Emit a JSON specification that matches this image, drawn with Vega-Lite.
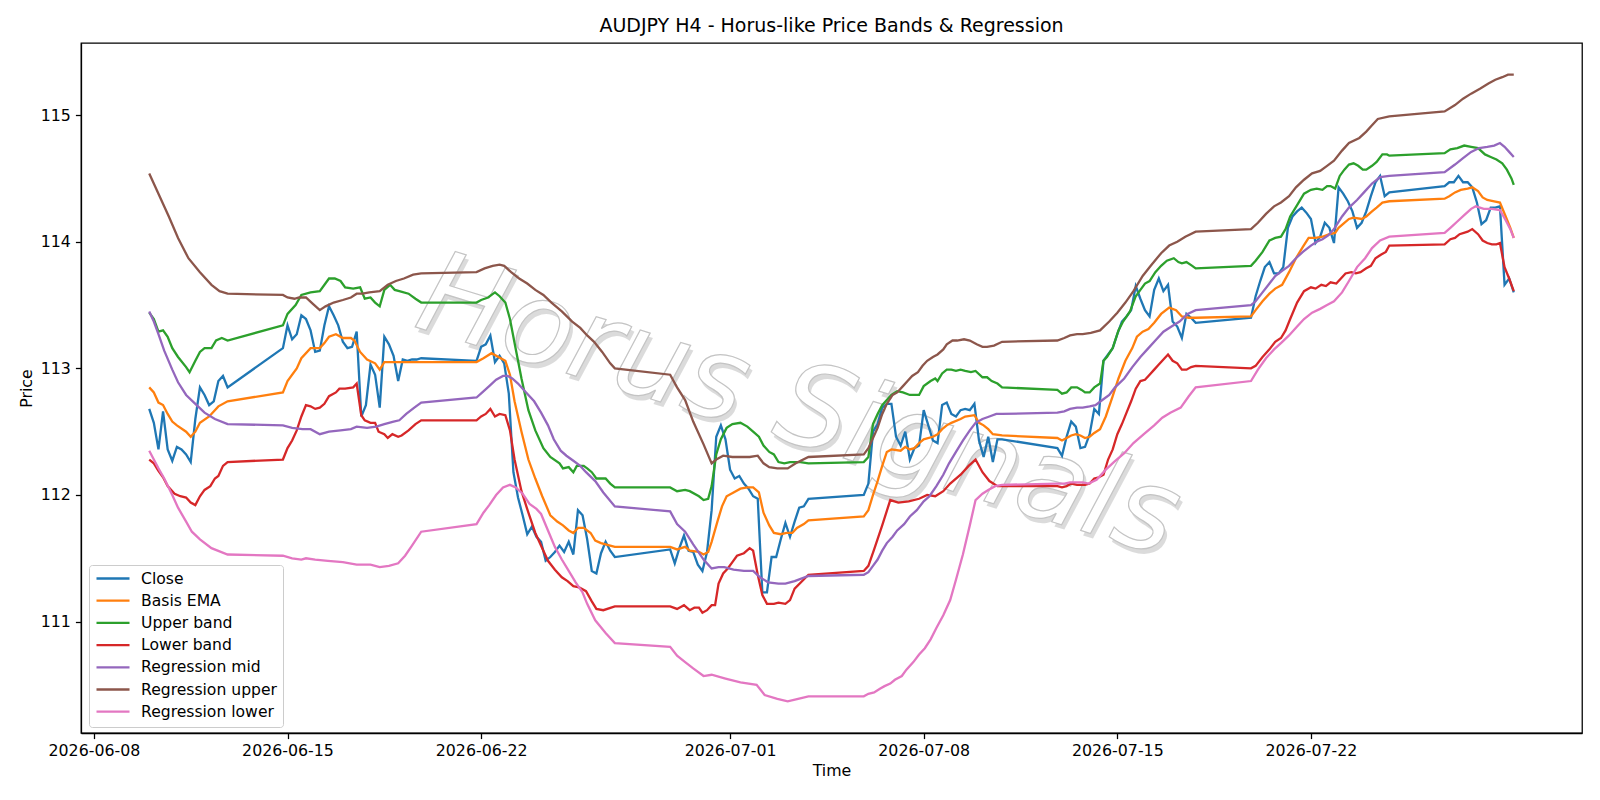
{
  "$schema": "https://vega.github.io/schema/vega-lite/v6.json",
  "width": 1501,
  "height": 690,
  "autosize": {"type": "none"},
  "padding": {"left": 81, "top": 43, "right": 18, "bottom": 67},
  "background": "white",
  "title": {"text": "AUDJPY H4 - Horus-like Price Bands & Regression", "font": "DejaVu Sans", "fontSize": 19, "fontWeight": "normal", "color": "black", "anchor": "middle", "offset": 7},
  "config": {
    "font": "DejaVu Sans",
    "view": {"stroke": "black", "strokeWidth": 1.27},
    "axis": {"labelFont": "DejaVu Sans", "labelFontSize": 15.8, "labelColor": "black", "titleFont": "DejaVu Sans", "titleFontSize": 15.8, "titleFontWeight": "normal", "titleColor": "black", "tickColor": "black", "tickSize": 5.6, "tickWidth": 1.27, "domainColor": "black", "domainWidth": 1.27, "labelPadding": 5, "gridColor": "#b0b0b0", "gridOpacity": 0.35, "gridWidth": 1.2}
  },
  "datasets": {
    "close": [
      {"t":"2026-06-10 00","v":112.68},{"t":"2026-06-10 04","v":112.57},{"t":"2026-06-10 08","v":112.36},{"t":"2026-06-10 12","v":112.66},{"t":"2026-06-10 16","v":112.36},{"t":"2026-06-10 20","v":112.27},
      {"t":"2026-06-11 00","v":112.38},{"t":"2026-06-11 04","v":112.36},{"t":"2026-06-11 08","v":112.32},{"t":"2026-06-11 12","v":112.26},{"t":"2026-06-11 16","v":112.60},{"t":"2026-06-11 20","v":112.85},
      {"t":"2026-06-12 00","v":112.79},{"t":"2026-06-12 04","v":112.71},{"t":"2026-06-12 08","v":112.74},{"t":"2026-06-12 12","v":112.90},{"t":"2026-06-12 16","v":112.94},{"t":"2026-06-12 20","v":112.85},
      {"t":"2026-06-14 20","v":113.16},
      {"t":"2026-06-15 00","v":113.34},{"t":"2026-06-15 04","v":113.23},{"t":"2026-06-15 08","v":113.27},{"t":"2026-06-15 12","v":113.42},{"t":"2026-06-15 16","v":113.39},{"t":"2026-06-15 20","v":113.30},
      {"t":"2026-06-16 00","v":113.13},{"t":"2026-06-16 04","v":113.14},{"t":"2026-06-16 08","v":113.34},{"t":"2026-06-16 12","v":113.49},{"t":"2026-06-16 16","v":113.42},{"t":"2026-06-16 20","v":113.34},
      {"t":"2026-06-17 00","v":113.21},{"t":"2026-06-17 04","v":113.16},{"t":"2026-06-17 08","v":113.17},{"t":"2026-06-17 12","v":113.29},{"t":"2026-06-17 16","v":112.62},{"t":"2026-06-17 20","v":112.71},
      {"t":"2026-06-18 00","v":113.03},{"t":"2026-06-18 04","v":112.95},{"t":"2026-06-18 08","v":112.69},{"t":"2026-06-18 12","v":113.25},{"t":"2026-06-18 16","v":113.19},{"t":"2026-06-18 20","v":113.10},
      {"t":"2026-06-19 00","v":112.90},{"t":"2026-06-19 04","v":113.07},{"t":"2026-06-19 08","v":113.06},{"t":"2026-06-19 12","v":113.07},{"t":"2026-06-19 16","v":113.07},{"t":"2026-06-19 20","v":113.08},
      {"t":"2026-06-21 20","v":113.06},
      {"t":"2026-06-22 00","v":113.17},{"t":"2026-06-22 04","v":113.19},{"t":"2026-06-22 08","v":113.26},{"t":"2026-06-22 12","v":113.05},{"t":"2026-06-22 16","v":113.10},{"t":"2026-06-22 20","v":113.04},
      {"t":"2026-06-23 00","v":112.80},{"t":"2026-06-23 04","v":112.18},{"t":"2026-06-23 08","v":111.98},{"t":"2026-06-23 12","v":111.84},{"t":"2026-06-23 16","v":111.69},{"t":"2026-06-23 20","v":111.75},
      {"t":"2026-06-24 00","v":111.67},{"t":"2026-06-24 04","v":111.63},{"t":"2026-06-24 08","v":111.48},{"t":"2026-06-24 12","v":111.51},{"t":"2026-06-24 16","v":111.55},{"t":"2026-06-24 20","v":111.60},
      {"t":"2026-06-25 00","v":111.55},{"t":"2026-06-25 04","v":111.63},{"t":"2026-06-25 08","v":111.53},{"t":"2026-06-25 12","v":111.88},{"t":"2026-06-25 16","v":111.84},{"t":"2026-06-25 20","v":111.65},
      {"t":"2026-06-26 00","v":111.40},{"t":"2026-06-26 04","v":111.38},{"t":"2026-06-26 08","v":111.54},{"t":"2026-06-26 12","v":111.63},{"t":"2026-06-26 16","v":111.56},{"t":"2026-06-26 20","v":111.51},
      {"t":"2026-06-28 20","v":111.57},
      {"t":"2026-06-29 00","v":111.46},{"t":"2026-06-29 04","v":111.58},{"t":"2026-06-29 08","v":111.68},{"t":"2026-06-29 12","v":111.56},{"t":"2026-06-29 16","v":111.55},{"t":"2026-06-29 20","v":111.45},
      {"t":"2026-06-30 00","v":111.40},{"t":"2026-06-30 04","v":111.55},{"t":"2026-06-30 08","v":111.88},{"t":"2026-06-30 12","v":112.46},{"t":"2026-06-30 16","v":112.55},{"t":"2026-06-30 20","v":112.44},
      {"t":"2026-07-01 00","v":112.20},{"t":"2026-07-01 04","v":112.13},{"t":"2026-07-01 08","v":112.15},{"t":"2026-07-01 12","v":112.09},{"t":"2026-07-01 16","v":112.05},{"t":"2026-07-01 20","v":111.99},
      {"t":"2026-07-02 00","v":111.97},{"t":"2026-07-02 04","v":111.23},{"t":"2026-07-02 08","v":111.23},{"t":"2026-07-02 12","v":111.51},{"t":"2026-07-02 16","v":111.51},{"t":"2026-07-02 20","v":111.65},
      {"t":"2026-07-03 00","v":111.78},{"t":"2026-07-03 04","v":111.67},{"t":"2026-07-03 08","v":111.79},{"t":"2026-07-03 12","v":111.90},{"t":"2026-07-03 16","v":111.91},{"t":"2026-07-03 20","v":111.97},
      {"t":"2026-07-05 20","v":112.00},
      {"t":"2026-07-06 00","v":112.09},{"t":"2026-07-06 04","v":112.50},{"t":"2026-07-06 08","v":112.56},{"t":"2026-07-06 12","v":112.69},{"t":"2026-07-06 16","v":112.72},{"t":"2026-07-06 20","v":112.72},
      {"t":"2026-07-07 00","v":112.46},{"t":"2026-07-07 04","v":112.39},{"t":"2026-07-07 08","v":112.50},{"t":"2026-07-07 12","v":112.28},{"t":"2026-07-07 16","v":112.37},{"t":"2026-07-07 20","v":112.39},
      {"t":"2026-07-08 00","v":112.67},{"t":"2026-07-08 04","v":112.55},{"t":"2026-07-08 08","v":112.43},{"t":"2026-07-08 12","v":112.41},{"t":"2026-07-08 16","v":112.71},{"t":"2026-07-08 20","v":112.73},
      {"t":"2026-07-09 00","v":112.64},{"t":"2026-07-09 04","v":112.62},{"t":"2026-07-09 08","v":112.67},{"t":"2026-07-09 12","v":112.68},{"t":"2026-07-09 16","v":112.67},{"t":"2026-07-09 20","v":112.72},
      {"t":"2026-07-10 00","v":112.43},{"t":"2026-07-10 04","v":112.30},{"t":"2026-07-10 08","v":112.46},{"t":"2026-07-10 12","v":112.26},{"t":"2026-07-10 16","v":112.44},{"t":"2026-07-10 20","v":112.44},
      {"t":"2026-07-12 20","v":112.37},
      {"t":"2026-07-13 00","v":112.31},{"t":"2026-07-13 04","v":112.46},{"t":"2026-07-13 08","v":112.58},{"t":"2026-07-13 12","v":112.54},{"t":"2026-07-13 16","v":112.37},{"t":"2026-07-13 20","v":112.38},
      {"t":"2026-07-14 00","v":112.48},{"t":"2026-07-14 04","v":112.68},{"t":"2026-07-14 08","v":112.64},{"t":"2026-07-14 12","v":113.06},{"t":"2026-07-14 16","v":113.11},{"t":"2026-07-14 20","v":113.16},
      {"t":"2026-07-15 00","v":113.27},{"t":"2026-07-15 04","v":113.37},{"t":"2026-07-15 08","v":113.41},{"t":"2026-07-15 12","v":113.46},{"t":"2026-07-15 16","v":113.65},{"t":"2026-07-15 20","v":113.55},
      {"t":"2026-07-16 00","v":113.46},{"t":"2026-07-16 04","v":113.41},{"t":"2026-07-16 08","v":113.62},{"t":"2026-07-16 12","v":113.71},{"t":"2026-07-16 16","v":113.61},{"t":"2026-07-16 20","v":113.66},
      {"t":"2026-07-17 00","v":113.37},{"t":"2026-07-17 04","v":113.33},{"t":"2026-07-17 08","v":113.24},{"t":"2026-07-17 12","v":113.43},{"t":"2026-07-17 16","v":113.40},{"t":"2026-07-17 20","v":113.36},
      {"t":"2026-07-19 20","v":113.40},
      {"t":"2026-07-20 00","v":113.57},{"t":"2026-07-20 04","v":113.69},{"t":"2026-07-20 08","v":113.80},{"t":"2026-07-20 12","v":113.84},{"t":"2026-07-20 16","v":113.75},{"t":"2026-07-20 20","v":113.75},
      {"t":"2026-07-21 00","v":113.80},{"t":"2026-07-21 04","v":114.11},{"t":"2026-07-21 08","v":114.20},{"t":"2026-07-21 12","v":114.24},{"t":"2026-07-21 16","v":114.27},{"t":"2026-07-21 20","v":114.23},
      {"t":"2026-07-22 00","v":114.18},{"t":"2026-07-22 04","v":113.99},{"t":"2026-07-22 08","v":114.04},{"t":"2026-07-22 12","v":114.15},{"t":"2026-07-22 16","v":114.11},{"t":"2026-07-22 20","v":113.99},
      {"t":"2026-07-23 00","v":114.43},{"t":"2026-07-23 04","v":114.38},{"t":"2026-07-23 08","v":114.32},{"t":"2026-07-23 12","v":114.24},{"t":"2026-07-23 16","v":114.11},{"t":"2026-07-23 20","v":114.15},
      {"t":"2026-07-24 00","v":114.24},{"t":"2026-07-24 04","v":114.36},{"t":"2026-07-24 08","v":114.47},{"t":"2026-07-24 12","v":114.52},{"t":"2026-07-24 16","v":114.36},{"t":"2026-07-24 20","v":114.39},
      {"t":"2026-07-26 20","v":114.44},
      {"t":"2026-07-27 00","v":114.47},{"t":"2026-07-27 04","v":114.47},{"t":"2026-07-27 08","v":114.52},{"t":"2026-07-27 12","v":114.47},{"t":"2026-07-27 16","v":114.47},{"t":"2026-07-27 20","v":114.43},
      {"t":"2026-07-28 00","v":114.31},{"t":"2026-07-28 04","v":114.14},{"t":"2026-07-28 08","v":114.17},{"t":"2026-07-28 12","v":114.27},{"t":"2026-07-28 16","v":114.27},{"t":"2026-07-28 20","v":114.28},
      {"t":"2026-07-29 00","v":113.66},{"t":"2026-07-29 04","v":113.71},{"t":"2026-07-29 08","v":113.60}
    ],
    "basis": [
      {"t":"2026-06-10 00","v":112.85},{"t":"2026-06-10 04","v":112.81},{"t":"2026-06-10 08","v":112.73},{"t":"2026-06-10 12","v":112.71},{"t":"2026-06-10 16","v":112.64},{"t":"2026-06-10 20","v":112.58},
      {"t":"2026-06-11 00","v":112.55},{"t":"2026-06-11 08","v":112.50},{"t":"2026-06-11 12","v":112.46},{"t":"2026-06-11 16","v":112.50},{"t":"2026-06-11 20","v":112.57},
      {"t":"2026-06-12 04","v":112.62},{"t":"2026-06-12 12","v":112.70},{"t":"2026-06-12 20","v":112.74},{"t":"2026-06-14 20","v":112.81},
      {"t":"2026-06-15 00","v":112.90},{"t":"2026-06-15 08","v":113.00},{"t":"2026-06-15 12","v":113.08},{"t":"2026-06-15 20","v":113.16},
      {"t":"2026-06-16 04","v":113.16},{"t":"2026-06-16 08","v":113.20},{"t":"2026-06-16 12","v":113.25},{"t":"2026-06-16 18","v":113.27},
      {"t":"2026-06-17 00","v":113.24},{"t":"2026-06-17 07","v":113.24},{"t":"2026-06-17 10","v":113.22},{"t":"2026-06-17 15","v":113.13},{"t":"2026-06-17 21","v":113.07},
      {"t":"2026-06-18 04","v":113.04},{"t":"2026-06-18 08","v":112.99},{"t":"2026-06-18 12","v":113.05},{"t":"2026-06-18 20","v":113.05},{"t":"2026-06-19 20","v":113.05},
      {"t":"2026-06-21 20","v":113.05},{"t":"2026-06-22 02","v":113.08},{"t":"2026-06-22 09","v":113.12},{"t":"2026-06-22 15","v":113.09},{"t":"2026-06-22 21","v":113.06},
      {"t":"2026-06-23 01","v":112.95},{"t":"2026-06-23 05","v":112.74},{"t":"2026-06-23 11","v":112.50},{"t":"2026-06-23 17","v":112.28},{"t":"2026-06-23 23","v":112.13},
      {"t":"2026-06-24 05","v":111.99},{"t":"2026-06-24 12","v":111.84},{"t":"2026-06-24 18","v":111.79},{"t":"2026-06-24 23","v":111.76},
      {"t":"2026-06-25 04","v":111.72},{"t":"2026-06-25 08","v":111.70},{"t":"2026-06-25 12","v":111.74},{"t":"2026-06-25 17","v":111.74},{"t":"2026-06-25 23","v":111.70},
      {"t":"2026-06-26 03","v":111.64},{"t":"2026-06-26 08","v":111.62},{"t":"2026-06-26 16","v":111.60},{"t":"2026-06-26 20","v":111.59},
      {"t":"2026-06-28 20","v":111.59},{"t":"2026-06-29 02","v":111.57},{"t":"2026-06-29 09","v":111.59},{"t":"2026-06-29 13","v":111.56},{"t":"2026-06-29 21","v":111.55},
      {"t":"2026-06-30 01","v":111.53},{"t":"2026-06-30 05","v":111.55},{"t":"2026-06-30 08","v":111.63},{"t":"2026-06-30 13","v":111.79},{"t":"2026-06-30 17","v":111.91},{"t":"2026-06-30 21","v":111.99},
      {"t":"2026-07-01 03","v":112.02},{"t":"2026-07-01 09","v":112.05},{"t":"2026-07-01 15","v":112.06},{"t":"2026-07-01 20","v":112.06},
      {"t":"2026-07-02 01","v":112.02},{"t":"2026-07-02 05","v":111.86},{"t":"2026-07-02 10","v":111.76},{"t":"2026-07-02 14","v":111.70},{"t":"2026-07-02 20","v":111.69},
      {"t":"2026-07-03 01","v":111.70},{"t":"2026-07-03 06","v":111.70},{"t":"2026-07-03 10","v":111.74},{"t":"2026-07-03 16","v":111.77},{"t":"2026-07-03 20","v":111.80},
      {"t":"2026-07-05 20","v":111.83},{"t":"2026-07-06 00","v":111.88},{"t":"2026-07-06 04","v":112.00},{"t":"2026-07-06 08","v":112.11},{"t":"2026-07-06 12","v":112.23},{"t":"2026-07-06 16","v":112.34},{"t":"2026-07-06 20","v":112.36},
      {"t":"2026-07-07 04","v":112.35},{"t":"2026-07-07 08","v":112.38},{"t":"2026-07-07 12","v":112.36},{"t":"2026-07-07 16","v":112.37},{"t":"2026-07-07 20","v":112.41},
      {"t":"2026-07-08 00","v":112.44},{"t":"2026-07-08 08","v":112.46},{"t":"2026-07-08 12","v":112.48},{"t":"2026-07-08 16","v":112.52},{"t":"2026-07-08 20","v":112.55},
      {"t":"2026-07-09 00","v":112.57},{"t":"2026-07-09 08","v":112.60},{"t":"2026-07-09 12","v":112.62},{"t":"2026-07-09 20","v":112.63},
      {"t":"2026-07-10 00","v":112.57},{"t":"2026-07-10 04","v":112.55},{"t":"2026-07-10 08","v":112.52},{"t":"2026-07-10 12","v":112.48},{"t":"2026-07-10 20","v":112.47},
      {"t":"2026-07-12 20","v":112.45},{"t":"2026-07-13 00","v":112.43},{"t":"2026-07-13 04","v":112.45},{"t":"2026-07-13 08","v":112.47},{"t":"2026-07-13 12","v":112.48},{"t":"2026-07-13 16","v":112.47},{"t":"2026-07-13 20","v":112.45},
      {"t":"2026-07-14 00","v":112.46},{"t":"2026-07-14 04","v":112.49},{"t":"2026-07-14 09","v":112.52},{"t":"2026-07-14 14","v":112.62},{"t":"2026-07-14 20","v":112.78},
      {"t":"2026-07-15 01","v":112.92},{"t":"2026-07-15 07","v":113.06},{"t":"2026-07-15 13","v":113.16},{"t":"2026-07-15 17","v":113.25},{"t":"2026-07-15 22","v":113.29},
      {"t":"2026-07-16 03","v":113.31},{"t":"2026-07-16 08","v":113.36},{"t":"2026-07-16 14","v":113.43},{"t":"2026-07-16 21","v":113.48},
      {"t":"2026-07-17 03","v":113.46},{"t":"2026-07-17 08","v":113.41},{"t":"2026-07-17 14","v":113.40},{"t":"2026-07-17 20","v":113.40},
      {"t":"2026-07-19 20","v":113.41},{"t":"2026-07-20 00","v":113.46},{"t":"2026-07-20 06","v":113.53},{"t":"2026-07-20 12","v":113.59},{"t":"2026-07-20 17","v":113.63},{"t":"2026-07-20 23","v":113.66},
      {"t":"2026-07-21 05","v":113.76},{"t":"2026-07-21 11","v":113.87},{"t":"2026-07-21 17","v":113.96},{"t":"2026-07-21 22","v":114.03},
      {"t":"2026-07-22 04","v":114.03},{"t":"2026-07-22 10","v":114.04},{"t":"2026-07-22 16","v":114.06},{"t":"2026-07-22 21","v":114.07},
      {"t":"2026-07-23 00","v":114.11},{"t":"2026-07-23 05","v":114.15},{"t":"2026-07-23 09","v":114.18},{"t":"2026-07-23 13","v":114.19},{"t":"2026-07-23 20","v":114.18},
      {"t":"2026-07-24 00","v":114.20},{"t":"2026-07-24 05","v":114.24},{"t":"2026-07-24 09","v":114.27},{"t":"2026-07-24 14","v":114.31},{"t":"2026-07-24 20","v":114.32},
      {"t":"2026-07-26 20","v":114.34},{"t":"2026-07-27 00","v":114.36},{"t":"2026-07-27 05","v":114.39},{"t":"2026-07-27 10","v":114.41},{"t":"2026-07-27 16","v":114.42},{"t":"2026-07-27 20","v":114.43},
      {"t":"2026-07-28 01","v":114.40},{"t":"2026-07-28 05","v":114.35},{"t":"2026-07-28 09","v":114.33},{"t":"2026-07-28 15","v":114.32},{"t":"2026-07-28 20","v":114.31},
      {"t":"2026-07-29 01","v":114.20},{"t":"2026-07-29 05","v":114.11},{"t":"2026-07-29 08","v":114.03}
    ],
    "upper": [
      {"t":"2026-06-10 00","v":113.44},{"t":"2026-06-10 04","v":113.39},{"t":"2026-06-10 08","v":113.29},{"t":"2026-06-10 12","v":113.30},{"t":"2026-06-10 16","v":113.25},{"t":"2026-06-10 20","v":113.16},
      {"t":"2026-06-11 01","v":113.09},{"t":"2026-06-11 08","v":113.01},{"t":"2026-06-11 11","v":112.97},{"t":"2026-06-11 16","v":113.06},{"t":"2026-06-11 20","v":113.13},
      {"t":"2026-06-12 00","v":113.16},{"t":"2026-06-12 06","v":113.16},{"t":"2026-06-12 10","v":113.22},{"t":"2026-06-12 15","v":113.24},{"t":"2026-06-12 20","v":113.22},
      {"t":"2026-06-14 20","v":113.34},{"t":"2026-06-15 00","v":113.43},{"t":"2026-06-15 07","v":113.50},{"t":"2026-06-15 12","v":113.58},{"t":"2026-06-15 20","v":113.60},
      {"t":"2026-06-16 04","v":113.61},{"t":"2026-06-16 12","v":113.71},{"t":"2026-06-16 17","v":113.71},{"t":"2026-06-16 22","v":113.69},
      {"t":"2026-06-17 02","v":113.64},{"t":"2026-06-17 09","v":113.63},{"t":"2026-06-17 15","v":113.64},{"t":"2026-06-17 19","v":113.55},
      {"t":"2026-06-18 00","v":113.56},{"t":"2026-06-18 04","v":113.52},{"t":"2026-06-18 08","v":113.49},{"t":"2026-06-18 12","v":113.62},{"t":"2026-06-18 17","v":113.66},{"t":"2026-06-18 21","v":113.62},
      {"t":"2026-06-19 01","v":113.61},{"t":"2026-06-19 09","v":113.59},{"t":"2026-06-19 15","v":113.55},{"t":"2026-06-19 20","v":113.52},
      {"t":"2026-06-21 20","v":113.52},{"t":"2026-06-22 00","v":113.54},{"t":"2026-06-22 06","v":113.56},{"t":"2026-06-22 12","v":113.60},{"t":"2026-06-22 16","v":113.57},{"t":"2026-06-22 21","v":113.52},
      {"t":"2026-06-23 01","v":113.39},{"t":"2026-06-23 05","v":113.20},{"t":"2026-06-23 11","v":112.92},{"t":"2026-06-23 17","v":112.67},{"t":"2026-06-23 23","v":112.51},
      {"t":"2026-06-24 06","v":112.37},{"t":"2026-06-24 12","v":112.30},{"t":"2026-06-24 20","v":112.25},{"t":"2026-06-24 23","v":112.21},
      {"t":"2026-06-25 04","v":112.22},{"t":"2026-06-25 08","v":112.18},{"t":"2026-06-25 11","v":112.23},{"t":"2026-06-25 17","v":112.23},{"t":"2026-06-25 20","v":112.21},
      {"t":"2026-06-26 00","v":112.18},{"t":"2026-06-26 04","v":112.13},{"t":"2026-06-26 12","v":112.13},{"t":"2026-06-26 16","v":112.09},{"t":"2026-06-26 20","v":112.06},
      {"t":"2026-06-28 20","v":112.06},{"t":"2026-06-29 02","v":112.03},{"t":"2026-06-29 09","v":112.04},{"t":"2026-06-29 13","v":112.03},{"t":"2026-06-29 21","v":111.99},
      {"t":"2026-06-30 01","v":111.96},{"t":"2026-06-30 05","v":111.97},{"t":"2026-06-30 08","v":112.07},{"t":"2026-06-30 12","v":112.32},{"t":"2026-06-30 16","v":112.44},{"t":"2026-06-30 21","v":112.53},
      {"t":"2026-07-01 02","v":112.56},{"t":"2026-07-01 09","v":112.57},{"t":"2026-07-01 15","v":112.54},{"t":"2026-07-01 20","v":112.50},
      {"t":"2026-07-02 01","v":112.46},{"t":"2026-07-02 05","v":112.39},{"t":"2026-07-02 10","v":112.34},{"t":"2026-07-02 14","v":112.32},{"t":"2026-07-02 18","v":112.26},{"t":"2026-07-02 23","v":112.25},
      {"t":"2026-07-03 04","v":112.26},{"t":"2026-07-03 13","v":112.26},{"t":"2026-07-03 20","v":112.25},
      {"t":"2026-07-05 20","v":112.26},{"t":"2026-07-06 00","v":112.30},{"t":"2026-07-06 04","v":112.56},{"t":"2026-07-06 08","v":112.64},{"t":"2026-07-06 12","v":112.71},{"t":"2026-07-06 16","v":112.75},{"t":"2026-07-06 20","v":112.79},
      {"t":"2026-07-07 01","v":112.82},{"t":"2026-07-07 06","v":112.81},{"t":"2026-07-07 12","v":112.79},{"t":"2026-07-07 20","v":112.79},
      {"t":"2026-07-08 00","v":112.86},{"t":"2026-07-08 06","v":112.90},{"t":"2026-07-08 10","v":112.92},{"t":"2026-07-08 12","v":112.90},{"t":"2026-07-08 16","v":112.96},{"t":"2026-07-08 20","v":112.99},
      {"t":"2026-07-09 00","v":112.99},{"t":"2026-07-09 04","v":112.98},{"t":"2026-07-09 08","v":112.99},{"t":"2026-07-09 12","v":112.98},{"t":"2026-07-09 17","v":112.97},{"t":"2026-07-09 21","v":112.98},
      {"t":"2026-07-10 03","v":112.93},{"t":"2026-07-10 07","v":112.93},{"t":"2026-07-10 11","v":112.90},{"t":"2026-07-10 16","v":112.88},{"t":"2026-07-10 20","v":112.85},
      {"t":"2026-07-12 20","v":112.83},{"t":"2026-07-13 00","v":112.80},{"t":"2026-07-13 04","v":112.81},{"t":"2026-07-13 08","v":112.85},{"t":"2026-07-13 13","v":112.85},{"t":"2026-07-13 17","v":112.83},{"t":"2026-07-13 20","v":112.81},
      {"t":"2026-07-14 00","v":112.81},{"t":"2026-07-14 04","v":112.85},{"t":"2026-07-14 09","v":112.88},{"t":"2026-07-14 12","v":113.06},{"t":"2026-07-14 15","v":113.09},{"t":"2026-07-14 20","v":113.16},
      {"t":"2026-07-15 01","v":113.30},{"t":"2026-07-15 05","v":113.37},{"t":"2026-07-15 11","v":113.45},{"t":"2026-07-15 16","v":113.57},{"t":"2026-07-15 20","v":113.62},
      {"t":"2026-07-16 00","v":113.67},{"t":"2026-07-16 04","v":113.69},{"t":"2026-07-16 09","v":113.76},{"t":"2026-07-16 14","v":113.81},{"t":"2026-07-16 19","v":113.85},
      {"t":"2026-07-17 01","v":113.87},{"t":"2026-07-17 05","v":113.84},{"t":"2026-07-17 08","v":113.83},{"t":"2026-07-17 12","v":113.84},{"t":"2026-07-17 17","v":113.81},{"t":"2026-07-17 20","v":113.79},
      {"t":"2026-07-19 20","v":113.81},{"t":"2026-07-20 00","v":113.85},{"t":"2026-07-20 06","v":113.92},{"t":"2026-07-20 12","v":114.01},{"t":"2026-07-20 17","v":114.03},{"t":"2026-07-20 22","v":114.04},
      {"t":"2026-07-21 02","v":114.10},{"t":"2026-07-21 06","v":114.20},{"t":"2026-07-21 12","v":114.29},{"t":"2026-07-21 18","v":114.38},
      {"t":"2026-07-22 00","v":114.41},{"t":"2026-07-22 05","v":114.42},{"t":"2026-07-22 10","v":114.41},{"t":"2026-07-22 14","v":114.44},{"t":"2026-07-22 17","v":114.44},{"t":"2026-07-22 21","v":114.42},
      {"t":"2026-07-23 01","v":114.52},{"t":"2026-07-23 05","v":114.57},{"t":"2026-07-23 09","v":114.61},{"t":"2026-07-23 13","v":114.62},{"t":"2026-07-23 17","v":114.60},{"t":"2026-07-23 21","v":114.57},
      {"t":"2026-07-24 00","v":114.57},{"t":"2026-07-24 05","v":114.60},{"t":"2026-07-24 09","v":114.63},{"t":"2026-07-24 14","v":114.69},{"t":"2026-07-24 18","v":114.69},{"t":"2026-07-24 20","v":114.68},
      {"t":"2026-07-26 20","v":114.70},{"t":"2026-07-27 01","v":114.73},{"t":"2026-07-27 07","v":114.74},{"t":"2026-07-27 13","v":114.76},{"t":"2026-07-27 19","v":114.75},
      {"t":"2026-07-28 01","v":114.74},{"t":"2026-07-28 07","v":114.69},{"t":"2026-07-28 12","v":114.67},{"t":"2026-07-28 17","v":114.65},{"t":"2026-07-28 22","v":114.62},
      {"t":"2026-07-29 02","v":114.57},{"t":"2026-07-29 06","v":114.50},{"t":"2026-07-29 08","v":114.45}
    ],
    "lower": [
      {"t":"2026-06-10 00","v":112.28},{"t":"2026-06-10 04","v":112.25},{"t":"2026-06-10 08","v":112.19},{"t":"2026-06-10 12","v":112.14},{"t":"2026-06-10 16","v":112.07},{"t":"2026-06-10 22","v":112.01},
      {"t":"2026-06-11 03","v":111.99},{"t":"2026-06-11 08","v":111.98},{"t":"2026-06-11 12","v":111.94},{"t":"2026-06-11 16","v":111.92},{"t":"2026-06-11 20","v":111.99},
      {"t":"2026-06-12 00","v":112.04},{"t":"2026-06-12 05","v":112.07},{"t":"2026-06-12 09","v":112.13},{"t":"2026-06-12 12","v":112.15},{"t":"2026-06-12 16","v":112.23},{"t":"2026-06-12 20","v":112.26},
      {"t":"2026-06-14 20","v":112.28},{"t":"2026-06-15 00","v":112.37},{"t":"2026-06-15 04","v":112.43},{"t":"2026-06-15 08","v":112.51},{"t":"2026-06-15 12","v":112.62},{"t":"2026-06-15 16","v":112.71},{"t":"2026-06-15 20","v":112.70},
      {"t":"2026-06-16 00","v":112.68},{"t":"2026-06-16 04","v":112.69},{"t":"2026-06-16 08","v":112.72},{"t":"2026-06-16 12","v":112.78},{"t":"2026-06-16 18","v":112.81},{"t":"2026-06-16 21","v":112.84},
      {"t":"2026-06-17 02","v":112.84},{"t":"2026-06-17 09","v":112.85},{"t":"2026-06-17 12","v":112.88},{"t":"2026-06-17 16","v":112.63},{"t":"2026-06-17 19","v":112.59},
      {"t":"2026-06-18 00","v":112.57},{"t":"2026-06-18 04","v":112.57},{"t":"2026-06-18 07","v":112.50},{"t":"2026-06-18 12","v":112.48},{"t":"2026-06-18 15","v":112.45},{"t":"2026-06-18 19","v":112.48},
      {"t":"2026-06-19 00","v":112.46},{"t":"2026-06-19 03","v":112.47},{"t":"2026-06-19 09","v":112.51},{"t":"2026-06-19 15","v":112.56},{"t":"2026-06-19 20","v":112.59},
      {"t":"2026-06-21 20","v":112.59},{"t":"2026-06-22 00","v":112.62},{"t":"2026-06-22 04","v":112.64},{"t":"2026-06-22 08","v":112.68},{"t":"2026-06-22 12","v":112.62},{"t":"2026-06-22 16","v":112.64},{"t":"2026-06-22 21","v":112.63},
      {"t":"2026-06-23 01","v":112.51},{"t":"2026-06-23 05","v":112.28},{"t":"2026-06-23 11","v":112.03},{"t":"2026-06-23 17","v":111.86},{"t":"2026-06-23 23","v":111.70},
      {"t":"2026-06-24 05","v":111.58},{"t":"2026-06-24 10","v":111.48},{"t":"2026-06-24 16","v":111.41},{"t":"2026-06-24 22","v":111.35},
      {"t":"2026-06-25 03","v":111.32},{"t":"2026-06-25 08","v":111.28},{"t":"2026-06-25 13","v":111.27},{"t":"2026-06-25 19","v":111.24},
      {"t":"2026-06-26 00","v":111.16},{"t":"2026-06-26 04","v":111.10},{"t":"2026-06-26 10","v":111.09},{"t":"2026-06-26 20","v":111.12},
      {"t":"2026-06-28 20","v":111.12},{"t":"2026-06-29 02","v":111.10},{"t":"2026-06-29 06","v":111.12},{"t":"2026-06-29 08","v":111.13},{"t":"2026-06-29 13","v":111.09},{"t":"2026-06-29 17","v":111.11},{"t":"2026-06-29 21","v":111.11},
      {"t":"2026-06-30 00","v":111.07},{"t":"2026-06-30 04","v":111.09},{"t":"2026-06-30 08","v":111.13},{"t":"2026-06-30 11","v":111.13},{"t":"2026-06-30 14","v":111.30},{"t":"2026-06-30 18","v":111.38},{"t":"2026-06-30 22","v":111.42},
      {"t":"2026-07-01 02","v":111.47},{"t":"2026-07-01 06","v":111.52},{"t":"2026-07-01 12","v":111.54},{"t":"2026-07-01 17","v":111.58},{"t":"2026-07-01 20","v":111.56},
      {"t":"2026-07-02 00","v":111.37},{"t":"2026-07-02 04","v":111.21},{"t":"2026-07-02 08","v":111.14},{"t":"2026-07-02 14","v":111.14},{"t":"2026-07-02 18","v":111.15},
      {"t":"2026-07-03 00","v":111.14},{"t":"2026-07-03 04","v":111.17},{"t":"2026-07-03 08","v":111.26},{"t":"2026-07-03 20","v":111.37},
      {"t":"2026-07-05 20","v":111.40},{"t":"2026-07-06 00","v":111.44},{"t":"2026-07-06 05","v":111.57},{"t":"2026-07-06 12","v":111.76},{"t":"2026-07-06 19","v":111.96},
      {"t":"2026-07-07 02","v":111.94},{"t":"2026-07-07 11","v":111.95},{"t":"2026-07-07 20","v":111.97},
      {"t":"2026-07-08 03","v":112.00},{"t":"2026-07-08 10","v":111.99},{"t":"2026-07-08 17","v":112.03},{"t":"2026-07-08 23","v":112.09},
      {"t":"2026-07-09 08","v":112.16},{"t":"2026-07-09 15","v":112.23},{"t":"2026-07-09 21","v":112.28},
      {"t":"2026-07-10 03","v":112.18},{"t":"2026-07-10 09","v":112.11},{"t":"2026-07-10 16","v":112.07},{"t":"2026-07-10 20","v":112.07},
      {"t":"2026-07-12 20","v":112.07},{"t":"2026-07-13 00","v":112.06},{"t":"2026-07-13 04","v":112.07},{"t":"2026-07-13 08","v":112.09},{"t":"2026-07-13 13","v":112.08},{"t":"2026-07-13 17","v":112.08},{"t":"2026-07-13 20","v":112.08},
      {"t":"2026-07-14 00","v":112.09},{"t":"2026-07-14 04","v":112.13},{"t":"2026-07-14 08","v":112.14},{"t":"2026-07-14 12","v":112.16},{"t":"2026-07-14 16","v":112.28},{"t":"2026-07-14 20","v":112.36},
      {"t":"2026-07-15 00","v":112.48},{"t":"2026-07-15 04","v":112.56},{"t":"2026-07-15 08","v":112.65},{"t":"2026-07-15 12","v":112.74},{"t":"2026-07-15 16","v":112.84},{"t":"2026-07-15 20","v":112.90},
      {"t":"2026-07-16 00","v":112.91},{"t":"2026-07-16 04","v":112.95},{"t":"2026-07-16 08","v":112.99},{"t":"2026-07-16 12","v":113.03},{"t":"2026-07-16 16","v":113.07},{"t":"2026-07-16 20","v":113.11},
      {"t":"2026-07-17 00","v":113.06},{"t":"2026-07-17 04","v":113.04},{"t":"2026-07-17 08","v":112.99},{"t":"2026-07-17 12","v":112.99},{"t":"2026-07-17 16","v":113.01},{"t":"2026-07-17 20","v":113.02},
      {"t":"2026-07-19 20","v":113.00},{"t":"2026-07-20 00","v":113.02},{"t":"2026-07-20 06","v":113.09},{"t":"2026-07-20 12","v":113.15},{"t":"2026-07-20 17","v":113.21},{"t":"2026-07-20 22","v":113.24},
      {"t":"2026-07-21 02","v":113.30},{"t":"2026-07-21 06","v":113.39},{"t":"2026-07-21 12","v":113.52},{"t":"2026-07-21 18","v":113.61},
      {"t":"2026-07-22 00","v":113.64},{"t":"2026-07-22 04","v":113.63},{"t":"2026-07-22 09","v":113.66},{"t":"2026-07-22 13","v":113.65},{"t":"2026-07-22 17","v":113.68},{"t":"2026-07-22 22","v":113.67},
      {"t":"2026-07-23 02","v":113.71},{"t":"2026-07-23 06","v":113.75},{"t":"2026-07-23 11","v":113.76},{"t":"2026-07-23 15","v":113.75},{"t":"2026-07-23 19","v":113.76},
      {"t":"2026-07-24 00","v":113.79},{"t":"2026-07-24 04","v":113.81},{"t":"2026-07-24 08","v":113.87},{"t":"2026-07-24 13","v":113.90},{"t":"2026-07-24 17","v":113.92},{"t":"2026-07-24 20","v":113.97},
      {"t":"2026-07-26 20","v":113.98},{"t":"2026-07-27 01","v":114.02},{"t":"2026-07-27 05","v":114.03},{"t":"2026-07-27 09","v":114.06},{"t":"2026-07-27 16","v":114.08},{"t":"2026-07-27 20","v":114.10},
      {"t":"2026-07-28 01","v":114.06},{"t":"2026-07-28 05","v":114.01},{"t":"2026-07-28 09","v":113.99},{"t":"2026-07-28 13","v":113.98},{"t":"2026-07-28 17","v":113.98},{"t":"2026-07-28 20","v":113.99},
      {"t":"2026-07-29 00","v":113.80},{"t":"2026-07-29 04","v":113.71},{"t":"2026-07-29 08","v":113.61}
    ],
    "mid": [
      {"t":"2026-06-10 00","v":113.45},{"t":"2026-06-10 04","v":113.37},{"t":"2026-06-10 08","v":113.27},{"t":"2026-06-10 13","v":113.14},{"t":"2026-06-10 20","v":112.99},
      {"t":"2026-06-11 01","v":112.89},{"t":"2026-06-11 08","v":112.79},{"t":"2026-06-11 16","v":112.72},{"t":"2026-06-12 00","v":112.65},{"t":"2026-06-12 09","v":112.60},{"t":"2026-06-12 20","v":112.56},
      {"t":"2026-06-14 20","v":112.55},{"t":"2026-06-15 04","v":112.53},{"t":"2026-06-15 13","v":112.52},{"t":"2026-06-15 20","v":112.52},
      {"t":"2026-06-16 04","v":112.48},{"t":"2026-06-16 12","v":112.50},{"t":"2026-06-16 22","v":112.51},{"t":"2026-06-17 07","v":112.52},{"t":"2026-06-17 12","v":112.54},{"t":"2026-06-17 21","v":112.53},
      {"t":"2026-06-18 05","v":112.54},{"t":"2026-06-18 12","v":112.56},{"t":"2026-06-18 20","v":112.58},{"t":"2026-06-19 01","v":112.59},{"t":"2026-06-19 07","v":112.64},{"t":"2026-06-19 14","v":112.69},{"t":"2026-06-19 20","v":112.73},
      {"t":"2026-06-21 20","v":112.77},{"t":"2026-06-22 01","v":112.81},{"t":"2026-06-22 07","v":112.86},{"t":"2026-06-22 13","v":112.91},{"t":"2026-06-22 19","v":112.94},{"t":"2026-06-22 23","v":112.94},
      {"t":"2026-06-23 03","v":112.92},{"t":"2026-06-23 08","v":112.88},{"t":"2026-06-23 15","v":112.81},{"t":"2026-06-23 22","v":112.74},
      {"t":"2026-06-24 04","v":112.65},{"t":"2026-06-24 10","v":112.55},{"t":"2026-06-24 15","v":112.44},{"t":"2026-06-24 21","v":112.35},
      {"t":"2026-06-25 02","v":112.31},{"t":"2026-06-25 08","v":112.27},{"t":"2026-06-25 14","v":112.23},{"t":"2026-06-25 19","v":112.18},
      {"t":"2026-06-26 03","v":112.11},{"t":"2026-06-26 10","v":112.02},{"t":"2026-06-26 20","v":111.91},
      {"t":"2026-06-28 20","v":111.87},{"t":"2026-06-29 02","v":111.77},{"t":"2026-06-29 09","v":111.71},{"t":"2026-06-29 16","v":111.61},
      {"t":"2026-06-30 01","v":111.49},{"t":"2026-06-30 08","v":111.42},{"t":"2026-06-30 14","v":111.43},{"t":"2026-06-30 19","v":111.43},
      {"t":"2026-07-01 03","v":111.41},{"t":"2026-07-01 12","v":111.40},{"t":"2026-07-01 20","v":111.40},{"t":"2026-07-02 02","v":111.35},{"t":"2026-07-02 09","v":111.31},{"t":"2026-07-02 18","v":111.30},
      {"t":"2026-07-03 00","v":111.30},{"t":"2026-07-03 08","v":111.32},{"t":"2026-07-03 20","v":111.36},
      {"t":"2026-07-05 20","v":111.37},{"t":"2026-07-06 00","v":111.39},{"t":"2026-07-06 04","v":111.44},{"t":"2026-07-06 08","v":111.49},{"t":"2026-07-06 12","v":111.56},{"t":"2026-07-06 16","v":111.62},{"t":"2026-07-06 21","v":111.67},
      {"t":"2026-07-07 01","v":111.72},{"t":"2026-07-07 07","v":111.77},{"t":"2026-07-07 12","v":111.83},{"t":"2026-07-07 18","v":111.88},
      {"t":"2026-07-08 00","v":111.95},{"t":"2026-07-08 05","v":111.99},{"t":"2026-07-08 11","v":112.07},{"t":"2026-07-08 17","v":112.16},{"t":"2026-07-08 22","v":112.25},
      {"t":"2026-07-09 04","v":112.34},{"t":"2026-07-09 10","v":112.43},{"t":"2026-07-09 16","v":112.51},{"t":"2026-07-09 21","v":112.57},
      {"t":"2026-07-10 03","v":112.60},{"t":"2026-07-10 09","v":112.62},{"t":"2026-07-10 15","v":112.64},{"t":"2026-07-10 20","v":112.64},
      {"t":"2026-07-12 20","v":112.65},{"t":"2026-07-13 02","v":112.66},{"t":"2026-07-13 07","v":112.68},{"t":"2026-07-13 13","v":112.69},{"t":"2026-07-13 18","v":112.69},
      {"t":"2026-07-14 00","v":112.70},{"t":"2026-07-14 05","v":112.71},{"t":"2026-07-14 11","v":112.75},{"t":"2026-07-14 17","v":112.79},{"t":"2026-07-14 22","v":112.85},
      {"t":"2026-07-15 06","v":112.92},{"t":"2026-07-15 13","v":113.01},{"t":"2026-07-15 20","v":113.09},
      {"t":"2026-07-16 02","v":113.15},{"t":"2026-07-16 09","v":113.22},{"t":"2026-07-16 16","v":113.29},{"t":"2026-07-16 23","v":113.33},
      {"t":"2026-07-17 06","v":113.37},{"t":"2026-07-17 13","v":113.43},{"t":"2026-07-17 20","v":113.46},
      {"t":"2026-07-19 20","v":113.50},{"t":"2026-07-20 00","v":113.53},{"t":"2026-07-20 06","v":113.60},{"t":"2026-07-20 12","v":113.67},{"t":"2026-07-20 17","v":113.73},{"t":"2026-07-20 23","v":113.77},
      {"t":"2026-07-21 05","v":113.81},{"t":"2026-07-21 11","v":113.87},{"t":"2026-07-21 17","v":113.92},
      {"t":"2026-07-22 00","v":113.97},{"t":"2026-07-22 05","v":114.00},{"t":"2026-07-22 10","v":114.02},{"t":"2026-07-22 15","v":114.05},{"t":"2026-07-22 20","v":114.10},
      {"t":"2026-07-23 03","v":114.20},{"t":"2026-07-23 09","v":114.27},{"t":"2026-07-23 16","v":114.33},{"t":"2026-07-23 23","v":114.40},
      {"t":"2026-07-24 05","v":114.46},{"t":"2026-07-24 12","v":114.51},{"t":"2026-07-24 20","v":114.52},
      {"t":"2026-07-26 20","v":114.55},{"t":"2026-07-27 05","v":114.61},{"t":"2026-07-27 12","v":114.66},{"t":"2026-07-27 19","v":114.71},
      {"t":"2026-07-28 02","v":114.74},{"t":"2026-07-28 09","v":114.75},{"t":"2026-07-28 15","v":114.76},{"t":"2026-07-28 20","v":114.78},
      {"t":"2026-07-29 00","v":114.75},{"t":"2026-07-29 04","v":114.71},{"t":"2026-07-29 08","v":114.67}
    ],
    "rupper": [
      {"t":"2026-06-10 00","v":114.54},{"t":"2026-06-10 08","v":114.38},{"t":"2026-06-10 17","v":114.20},{"t":"2026-06-11 01","v":114.03},{"t":"2026-06-11 10","v":113.87},{"t":"2026-06-11 20","v":113.76},
      {"t":"2026-06-12 06","v":113.66},{"t":"2026-06-12 13","v":113.61},{"t":"2026-06-12 20","v":113.59},
      {"t":"2026-06-14 20","v":113.58},{"t":"2026-06-15 00","v":113.56},{"t":"2026-06-15 06","v":113.55},{"t":"2026-06-15 10","v":113.56},{"t":"2026-06-15 16","v":113.56},{"t":"2026-06-15 22","v":113.51},
      {"t":"2026-06-16 04","v":113.46},{"t":"2026-06-16 09","v":113.49},{"t":"2026-06-16 16","v":113.52},
      {"t":"2026-06-17 00","v":113.54},{"t":"2026-06-17 07","v":113.56},{"t":"2026-06-17 12","v":113.59},{"t":"2026-06-17 17","v":113.59},{"t":"2026-06-17 23","v":113.60},
      {"t":"2026-06-18 08","v":113.61},{"t":"2026-06-18 15","v":113.66},{"t":"2026-06-18 22","v":113.69},{"t":"2026-06-19 05","v":113.71},{"t":"2026-06-19 13","v":113.74},{"t":"2026-06-19 20","v":113.75},
      {"t":"2026-06-21 20","v":113.76},{"t":"2026-06-22 03","v":113.79},{"t":"2026-06-22 10","v":113.81},{"t":"2026-06-22 16","v":113.82},{"t":"2026-06-22 20","v":113.81},
      {"t":"2026-06-23 02","v":113.76},{"t":"2026-06-23 09","v":113.71},{"t":"2026-06-23 16","v":113.67},{"t":"2026-06-23 23","v":113.62},
      {"t":"2026-06-24 06","v":113.58},{"t":"2026-06-24 13","v":113.52},{"t":"2026-06-24 22","v":113.45},
      {"t":"2026-06-25 07","v":113.37},{"t":"2026-06-25 14","v":113.32},{"t":"2026-06-25 20","v":113.26},
      {"t":"2026-06-26 02","v":113.21},{"t":"2026-06-26 09","v":113.13},{"t":"2026-06-26 16","v":113.04},{"t":"2026-06-26 20","v":113.00},
      {"t":"2026-06-28 20","v":112.95},{"t":"2026-06-29 02","v":112.85},{"t":"2026-06-29 09","v":112.75},{"t":"2026-06-29 16","v":112.58},
      {"t":"2026-06-30 01","v":112.40},{"t":"2026-06-30 08","v":112.25},{"t":"2026-06-30 12","v":112.28},{"t":"2026-06-30 18","v":112.31},
      {"t":"2026-07-01 02","v":112.30},{"t":"2026-07-01 11","v":112.30},{"t":"2026-07-01 17","v":112.30},
      {"t":"2026-07-02 00","v":112.31},{"t":"2026-07-02 05","v":112.25},{"t":"2026-07-02 10","v":112.22},{"t":"2026-07-02 17","v":112.21},
      {"t":"2026-07-03 02","v":112.21},{"t":"2026-07-03 09","v":112.25},{"t":"2026-07-03 20","v":112.30},
      {"t":"2026-07-05 20","v":112.32},{"t":"2026-07-06 00","v":112.37},{"t":"2026-07-06 04","v":112.45},{"t":"2026-07-06 08","v":112.53},{"t":"2026-07-06 12","v":112.64},{"t":"2026-07-06 16","v":112.72},{"t":"2026-07-06 21","v":112.79},
      {"t":"2026-07-07 01","v":112.81},{"t":"2026-07-07 06","v":112.86},{"t":"2026-07-07 10","v":112.90},{"t":"2026-07-07 14","v":112.94},{"t":"2026-07-07 19","v":112.97},{"t":"2026-07-07 23","v":113.02},
      {"t":"2026-07-08 03","v":113.06},{"t":"2026-07-08 08","v":113.09},{"t":"2026-07-08 12","v":113.11},{"t":"2026-07-08 17","v":113.15},{"t":"2026-07-08 20","v":113.19},
      {"t":"2026-07-09 01","v":113.22},{"t":"2026-07-09 05","v":113.22},{"t":"2026-07-09 11","v":113.23},{"t":"2026-07-09 16","v":113.22},{"t":"2026-07-09 22","v":113.19},
      {"t":"2026-07-10 03","v":113.17},{"t":"2026-07-10 07","v":113.17},{"t":"2026-07-10 13","v":113.18},{"t":"2026-07-10 20","v":113.21},
      {"t":"2026-07-12 20","v":113.22},{"t":"2026-07-13 02","v":113.24},{"t":"2026-07-13 07","v":113.26},{"t":"2026-07-13 13","v":113.27},{"t":"2026-07-13 18","v":113.27},
      {"t":"2026-07-14 01","v":113.28},{"t":"2026-07-14 09","v":113.30},{"t":"2026-07-14 17","v":113.37},
      {"t":"2026-07-15 00","v":113.44},{"t":"2026-07-15 07","v":113.52},{"t":"2026-07-15 14","v":113.61},{"t":"2026-07-15 22","v":113.73},
      {"t":"2026-07-16 05","v":113.81},{"t":"2026-07-16 14","v":113.91},{"t":"2026-07-16 21","v":113.97},
      {"t":"2026-07-17 04","v":114.00},{"t":"2026-07-17 11","v":114.04},{"t":"2026-07-17 20","v":114.08},
      {"t":"2026-07-19 20","v":114.10},{"t":"2026-07-20 02","v":114.15},{"t":"2026-07-20 09","v":114.22},{"t":"2026-07-20 16","v":114.28},{"t":"2026-07-20 22","v":114.31},
      {"t":"2026-07-21 05","v":114.36},{"t":"2026-07-21 11","v":114.43},{"t":"2026-07-21 18","v":114.49},
      {"t":"2026-07-22 01","v":114.54},{"t":"2026-07-22 08","v":114.56},{"t":"2026-07-22 14","v":114.60},{"t":"2026-07-22 20","v":114.64},
      {"t":"2026-07-23 03","v":114.72},{"t":"2026-07-23 09","v":114.78},{"t":"2026-07-23 18","v":114.82},
      {"t":"2026-07-24 00","v":114.87},{"t":"2026-07-24 05","v":114.92},{"t":"2026-07-24 10","v":114.97},{"t":"2026-07-24 20","v":114.99},
      {"t":"2026-07-26 20","v":115.03},{"t":"2026-07-27 05","v":115.08},{"t":"2026-07-27 12","v":115.13},{"t":"2026-07-27 19","v":115.17},
      {"t":"2026-07-28 03","v":115.21},{"t":"2026-07-28 10","v":115.25},{"t":"2026-07-28 16","v":115.28},{"t":"2026-07-28 22","v":115.30},
      {"t":"2026-07-29 03","v":115.32},{"t":"2026-07-29 08","v":115.32}
    ],
    "rlower": [
      {"t":"2026-06-10 00","v":112.35},{"t":"2026-06-10 04","v":112.28},{"t":"2026-06-10 08","v":112.21},{"t":"2026-06-10 13","v":112.13},{"t":"2026-06-10 20","v":112.00},
      {"t":"2026-06-11 01","v":111.90},{"t":"2026-06-11 08","v":111.79},{"t":"2026-06-11 13","v":111.71},{"t":"2026-06-11 20","v":111.65},
      {"t":"2026-06-12 06","v":111.58},{"t":"2026-06-12 20","v":111.53},
      {"t":"2026-06-14 20","v":111.52},{"t":"2026-06-15 04","v":111.50},{"t":"2026-06-15 12","v":111.49},{"t":"2026-06-15 16","v":111.50},
      {"t":"2026-06-16 00","v":111.49},{"t":"2026-06-16 11","v":111.48},{"t":"2026-06-17 00","v":111.47},{"t":"2026-06-17 12","v":111.45},
      {"t":"2026-06-18 00","v":111.45},{"t":"2026-06-18 08","v":111.43},{"t":"2026-06-18 16","v":111.44},
      {"t":"2026-06-19 00","v":111.46},{"t":"2026-06-19 06","v":111.52},{"t":"2026-06-19 12","v":111.60},{"t":"2026-06-19 20","v":111.71},
      {"t":"2026-06-21 20","v":111.77},{"t":"2026-06-22 02","v":111.86},{"t":"2026-06-22 07","v":111.92},{"t":"2026-06-22 13","v":112.00},{"t":"2026-06-22 19","v":112.06},
      {"t":"2026-06-23 01","v":112.08},{"t":"2026-06-23 06","v":112.06},{"t":"2026-06-23 12","v":112.01},{"t":"2026-06-23 18","v":111.93},
      {"t":"2026-06-24 00","v":111.89},{"t":"2026-06-24 04","v":111.85},{"t":"2026-06-24 10","v":111.72},{"t":"2026-06-24 16","v":111.59},{"t":"2026-06-24 22","v":111.49},
      {"t":"2026-06-25 04","v":111.40},{"t":"2026-06-25 10","v":111.31},{"t":"2026-06-25 16","v":111.23},{"t":"2026-06-25 20","v":111.14},
      {"t":"2026-06-26 03","v":111.01},{"t":"2026-06-26 12","v":110.91},{"t":"2026-06-26 20","v":110.83},
      {"t":"2026-06-28 20","v":110.80},{"t":"2026-06-29 02","v":110.73},{"t":"2026-06-29 09","v":110.68},{"t":"2026-06-29 16","v":110.63},
      {"t":"2026-06-30 01","v":110.57},{"t":"2026-06-30 08","v":110.58},{"t":"2026-06-30 20","v":110.55},
      {"t":"2026-07-01 09","v":110.52},{"t":"2026-07-01 23","v":110.50},{"t":"2026-07-02 06","v":110.42},{"t":"2026-07-02 17","v":110.39},
      {"t":"2026-07-03 02","v":110.37},{"t":"2026-07-03 11","v":110.39},{"t":"2026-07-03 20","v":110.41},
      {"t":"2026-07-05 20","v":110.41},{"t":"2026-07-06 00","v":110.43},{"t":"2026-07-06 05","v":110.44},{"t":"2026-07-06 10","v":110.47},{"t":"2026-07-06 14","v":110.49},{"t":"2026-07-06 19","v":110.51},{"t":"2026-07-06 23","v":110.54},
      {"t":"2026-07-07 05","v":110.57},{"t":"2026-07-07 09","v":110.62},{"t":"2026-07-07 15","v":110.68},{"t":"2026-07-07 20","v":110.74},
      {"t":"2026-07-08 01","v":110.79},{"t":"2026-07-08 06","v":110.86},{"t":"2026-07-08 11","v":110.95},{"t":"2026-07-08 17","v":111.05},{"t":"2026-07-08 23","v":111.17},
      {"t":"2026-07-09 04","v":111.33},{"t":"2026-07-09 10","v":111.53},{"t":"2026-07-09 16","v":111.76},{"t":"2026-07-09 21","v":111.96},
      {"t":"2026-07-10 03","v":112.01},{"t":"2026-07-10 08","v":112.04},{"t":"2026-07-10 14","v":112.07},{"t":"2026-07-10 20","v":112.08},
      {"t":"2026-07-12 20","v":112.09},{"t":"2026-07-13 02","v":112.09},{"t":"2026-07-13 07","v":112.10},{"t":"2026-07-13 13","v":112.10},{"t":"2026-07-13 18","v":112.10},{"t":"2026-07-13 23","v":112.09},
      {"t":"2026-07-14 06","v":112.12},{"t":"2026-07-14 14","v":112.20},{"t":"2026-07-14 21","v":112.26},
      {"t":"2026-07-15 06","v":112.33},{"t":"2026-07-15 14","v":112.41},{"t":"2026-07-15 23","v":112.48},
      {"t":"2026-07-16 08","v":112.55},{"t":"2026-07-16 15","v":112.61},{"t":"2026-07-16 22","v":112.65},
      {"t":"2026-07-17 07","v":112.69},{"t":"2026-07-17 14","v":112.78},{"t":"2026-07-17 20","v":112.85},
      {"t":"2026-07-19 20","v":112.90},{"t":"2026-07-20 02","v":112.99},{"t":"2026-07-20 09","v":113.08},{"t":"2026-07-20 16","v":113.15},{"t":"2026-07-20 22","v":113.20},
      {"t":"2026-07-21 05","v":113.26},{"t":"2026-07-21 12","v":113.33},{"t":"2026-07-21 18","v":113.39},
      {"t":"2026-07-22 01","v":113.44},{"t":"2026-07-22 08","v":113.47},{"t":"2026-07-22 14","v":113.50},{"t":"2026-07-22 20","v":113.53},
      {"t":"2026-07-23 03","v":113.60},{"t":"2026-07-23 09","v":113.69},{"t":"2026-07-23 16","v":113.80},{"t":"2026-07-23 23","v":113.87},
      {"t":"2026-07-24 05","v":113.95},{"t":"2026-07-24 12","v":114.01},{"t":"2026-07-24 20","v":114.04},
      {"t":"2026-07-26 20","v":114.07},{"t":"2026-07-27 01","v":114.11},{"t":"2026-07-27 07","v":114.16},{"t":"2026-07-27 13","v":114.21},{"t":"2026-07-27 19","v":114.26},{"t":"2026-07-27 23","v":114.28},
      {"t":"2026-07-28 06","v":114.26},{"t":"2026-07-28 13","v":114.26},{"t":"2026-07-28 20","v":114.25},
      {"t":"2026-07-29 01","v":114.17},{"t":"2026-07-29 05","v":114.10},{"t":"2026-07-29 08","v":114.03}
    ]
  },
  "layer": [
    {"data": {"values": [{}]}, "mark": {"type": "text", "text": "Horus Signals", "font": "DejaVu Sans", "fontStyle": "italic", "fontSize": 115, "angle": 17, "align": "center", "baseline": "middle", "fill": "#8c8c8c", "opacity": 0.3, "dx": 4, "dy": 4},
     "encoding": {"x": {"datum": {"year": 2026, "month": 7, "date": 3, "hours": 11, "minutes": 30}, "type": "temporal", "title": "Time"}, "y": {"datum": 112.69, "type": "quantitative", "title": "Price"}}},
    {"data": {"values": [{}]}, "mark": {"type": "text", "text": "Horus Signals", "font": "DejaVu Sans", "fontStyle": "italic", "fontSize": 115, "angle": 17, "align": "center", "baseline": "middle", "fill": "white", "stroke": "#c4c4c4", "strokeWidth": 1.2},
     "encoding": {"x": {"datum": {"year": 2026, "month": 7, "date": 3, "hours": 11, "minutes": 30}, "type": "temporal", "title": "Time"}, "y": {"datum": 112.69, "type": "quantitative", "title": "Price"}}},
    {
      "encoding": {
        "x": {"field": "t", "type": "temporal", "title": "Time",
          "scale": {"domain": [{"year": 2026, "month": 6, "date": 7, "hours": 12, "minutes": 48}, {"year": 2026, "month": 7, "date": 31, "hours": 19, "minutes": 12}], "nice": false},
          "axis": {"format": "%Y-%m-%d", "labelAngle": 0, "labelOverlap": false, "labelFlush": false, "titlePadding": 5,
            "values": [{"year": 2026, "month": 6, "date": 8}, {"year": 2026, "month": 6, "date": 15}, {"year": 2026, "month": 6, "date": 22}, {"year": 2026, "month": 7, "date": 1}, {"year": 2026, "month": 7, "date": 8}, {"year": 2026, "month": 7, "date": 15}, {"year": 2026, "month": 7, "date": 22}]}},
        "y": {"field": "v", "type": "quantitative", "title": "Price",
          "scale": {"domain": [110.12, 115.57], "nice": false, "zero": false},
          "axis": {"values": [111, 112, 113, 114, 115], "format": "d", "titlePadding": 6}}
      },
      "layer": [
        {"data": {"name": "close", "format": {"parse": {"t": "date:'%Y-%m-%d %H'"}}}, "mark": {"type": "line", "strokeWidth": 2.3},
         "encoding": {"color": {"datum": "Close", "type": "nominal",
           "scale": {"domain": ["Close", "Basis EMA", "Upper band", "Lower band", "Regression mid", "Regression upper", "Regression lower"], "range": ["#1f77b4", "#ff7f0e", "#2ca02c", "#d62728", "#9467bd", "#8c564b", "#e377c2"]},
           "legend": {"title": null, "orient": "none", "legendX": 8, "legendY": 522, "symbolType": "stroke", "symbolSize": 1089, "symbolStrokeWidth": 2.3, "labelFont": "DejaVu Sans", "labelFontSize": 15.6, "labelColor": "black", "labelOffset": 10, "labelLimit": 300, "clipHeight": 15, "rowPadding": 5.2, "padding": 6, "fillColor": "rgba(255,255,255,0.8)", "strokeColor": "#cccccc", "cornerRadius": 3}}}},
        {"data": {"name": "basis", "format": {"parse": {"t": "date:'%Y-%m-%d %H'"}}}, "mark": {"type": "line", "strokeWidth": 2.3}, "encoding": {"color": {"datum": "Basis EMA", "type": "nominal"}}},
        {"data": {"name": "upper", "format": {"parse": {"t": "date:'%Y-%m-%d %H'"}}}, "mark": {"type": "line", "strokeWidth": 2.3}, "encoding": {"color": {"datum": "Upper band", "type": "nominal"}}},
        {"data": {"name": "lower", "format": {"parse": {"t": "date:'%Y-%m-%d %H'"}}}, "mark": {"type": "line", "strokeWidth": 2.3}, "encoding": {"color": {"datum": "Lower band", "type": "nominal"}}},
        {"data": {"name": "mid", "format": {"parse": {"t": "date:'%Y-%m-%d %H'"}}}, "mark": {"type": "line", "strokeWidth": 2.3}, "encoding": {"color": {"datum": "Regression mid", "type": "nominal"}}},
        {"data": {"name": "rupper", "format": {"parse": {"t": "date:'%Y-%m-%d %H'"}}}, "mark": {"type": "line", "strokeWidth": 2.3}, "encoding": {"color": {"datum": "Regression upper", "type": "nominal"}}},
        {"data": {"name": "rlower", "format": {"parse": {"t": "date:'%Y-%m-%d %H'"}}}, "mark": {"type": "line", "strokeWidth": 2.3}, "encoding": {"color": {"datum": "Regression lower", "type": "nominal"}}}
      ]
    }
  ]
}
